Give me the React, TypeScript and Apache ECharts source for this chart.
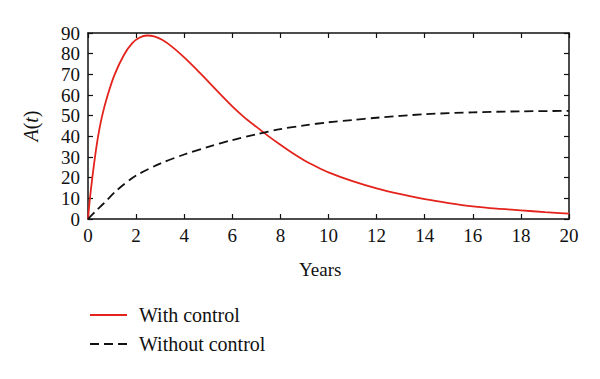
import React, { useEffect, useRef } from "react";
import * as echarts from "echarts";

const xTicks = [0, 2, 4, 6, 8, 10, 12, 14, 16, 18, 20];
const yTicks = [0, 10, 20, 30, 40, 50, 60, 70, 80, 90];

const tWith = [0, 0.08, 0.18, 0.29, 0.42, 0.59, 0.82, 1.11, 1.5, 1.85, 2.15, 2.45, 2.75, 3.1, 3.5, 4.0, 4.5, 5.0, 5.5, 6.0, 6.5, 7.0, 7.5, 8.0, 8.5, 9.0, 9.5, 10, 11, 12, 13, 14, 15, 16, 17, 18, 19, 20];
const aWith = [0, 10, 20, 30, 40, 50, 60, 70, 79.5, 85.2, 87.8, 88.8, 88.4, 86.6, 83.3, 78.2, 72.5, 66.5, 60.4, 54.5, 49.2, 44.6, 40.1, 35.9, 31.9, 28.3, 25.3, 22.6, 18.3, 14.8, 12, 9.6, 7.7, 6.1, 5, 4.2, 3.3, 2.6];

const tWithout = [0, 0.3, 0.65, 1.2, 2, 3, 4, 5, 6, 7, 8, 9, 10, 11, 12, 14, 16, 18, 20];
const aWithout = [0, 3.6, 7.5, 13.9, 21, 26.8, 31.2, 34.9, 38.2, 41, 43.5, 45.3, 46.8, 47.9, 49, 50.7, 51.6, 52.1, 52.3];

const seriesNames = ["With control", "Without control"];
const xTitle = "Years";

const FONT = "Liberation Serif";

function mkLine() {
  return { show: true, onZero: false, lineStyle: { color: "#111", width: 1.5 } };
}
function mkTick() {
  return { show: true, inside: true, length: 5, lineStyle: { color: "#111", width: 1.2 } };
}

export default function App() {
  const ref = useRef<HTMLDivElement>(null);
  useEffect(() => {
    if (!ref.current) return;
    const chart = echarts.init(ref.current, null, { renderer: "svg" });
    chart.setOption({
      animation: false,
      backgroundColor: "#fff",
      textStyle: { fontFamily: FONT },
      grid: { left: 88, right: 31, top: 33, bottom: 160, containLabel: false },
      legend: {
        orient: "vertical",
        left: 89,
        top: 305,
        padding: 0,
        itemWidth: 37,
        itemHeight: 14,
        itemGap: 9,
        itemStyle: { opacity: 0 },
        textStyle: { fontFamily: FONT, fontSize: 20, color: "#111", padding: [0, 0, 0, 7] },
        data: seriesNames.map((n) => ({ name: n })),
      },
      xAxis: [
        {
          type: "value",
          min: 0,
          max: 20,
          interval: 2,
          axisLine: mkLine(),
          axisTick: mkTick(),
          splitLine: { show: false },
          axisLabel: {
            fontFamily: FONT,
            fontSize: 19,
            color: "#111",
            margin: 7,
            formatter: (v: number) => (xTicks.includes(v) ? String(v) : ""),
          },
        },
        {
          type: "value",
          position: "top",
          min: 0,
          max: 20,
          interval: 2,
          axisLine: mkLine(),
          axisTick: mkTick(),
          splitLine: { show: false },
          axisLabel: { show: false },
        },
      ],
      yAxis: [
        {
          type: "value",
          min: 0,
          max: 90,
          interval: 10,
          axisLine: mkLine(),
          axisTick: mkTick(),
          splitLine: { show: false },
          name: "{i|A}({i|t})",
          nameLocation: "middle",
          nameGap: 47,
          nameTextStyle: {
            fontFamily: FONT,
            fontSize: 20,
            color: "#111",
            rich: { i: { fontFamily: FONT, fontSize: 20, fontStyle: "italic", color: "#111" } },
          },
          axisLabel: {
            fontFamily: FONT,
            fontSize: 19,
            color: "#111",
            margin: 8,
            formatter: (v: number) => (yTicks.includes(v) ? String(v) : ""),
          },
        },
        {
          type: "value",
          position: "right",
          min: 0,
          max: 90,
          interval: 10,
          axisLine: mkLine(),
          axisTick: mkTick(),
          splitLine: { show: false },
          axisLabel: { show: false },
        },
      ],
      graphic: [
        {
          type: "text",
          left: 299,
          top: 260,
          style: { text: xTitle, fontFamily: FONT, fontSize: 19, fill: "#111" },
        },
      ],
      series: [
        {
          name: seriesNames[0],
          type: "line",
          showSymbol: false,
          symbol: "none",
          smooth: 0.25,
          lineStyle: { color: "#e3231c", width: 1.8 },
          itemStyle: { color: "#e3231c" },
          data: tWith.map((t, i) => [t, aWith[i]]),
        },
        {
          name: seriesNames[1],
          type: "line",
          showSymbol: false,
          symbol: "none",
          smooth: 0.3,
          lineStyle: { color: "#111", width: 1.8, type: [9, 5] },
          itemStyle: { color: "#111" },
          data: tWithout.map((t, i) => [t, aWithout[i]]),
        },
      ],
    });
    return () => chart.dispose();
  }, []);
  return <div ref={ref} style={{ width: 600, height: 379, position: "absolute", left: 0, top: 0 }} />;
}
